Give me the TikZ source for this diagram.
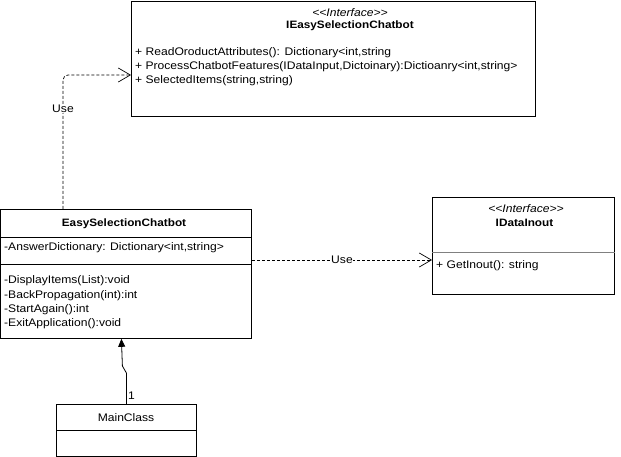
\documentclass[tikz,border=0pt]{standalone}
\usepackage{fontspec}
\setmainfont[FakeStretch=1.1]{Liberation Sans}
\usetikzlibrary{arrows.meta}
\begin{document}
\begin{tikzpicture}[x=1pt,y=-1pt,
  box/.style={draw=black,line width=0.8pt,fill=white,inner sep=0pt,anchor=north west},
  txt/.style={inner sep=0pt,font=\fontsize{11}{12}\selectfont},
  btxt/.style={inner sep=0pt,font=\fontsize{10.7}{12}\selectfont\bfseries},
  itxt/.style={inner sep=0pt,font=\fontsize{11}{12}\selectfont\itshape},
  ltxt/.style={txt,anchor=west},
  sep/.style={line width=0.8pt},
  dep/.style={line width=0.7pt,dash pattern=on 3pt off 2pt,-{Straight Barb[length=12pt,width=14pt,line width=0.7pt]}},
  lbl/.style={txt,fill=white,inner sep=0.5pt}]
\useasboundingbox[fill=white] (0,0) rectangle (621,457);
% top interface
\node[box,minimum width=404pt,minimum height=115pt] (ie) at (131,1) {};
\node[itxt] (ies) at (350,13) {{<}{<}Interface{>}{>}};
\node[btxt] (ien) at (350,26) {IEasySelectionChatbot};
\node[ltxt] (iem1) at (135,53) {+ ReadOroductAttributes(): Dictionary{<}int,string};
\node[ltxt] (iem2) at (135,67) {+ ProcessChatbotFeatures(IDataInput,Dictoinary):Dictioanry{<}int,string{>}};
\node[ltxt] (iem3) at (135,81) {+ SelectedItems(string,string)};
% EasySelectionChatbot
\node[box,minimum width=251pt,minimum height=129pt] (esc) at (0,209) {};
\node[btxt] (escn) at (124,224) {EasySelectionChatbot};
\draw[sep] ([yshift=-28pt]esc.north west) -- ([yshift=-28pt]esc.north east);
\node[ltxt] (esca) at (4,248) {-AnswerDictionary: Dictionary{<}int,string{>}};
\draw[sep] ([yshift=-55pt]esc.north west) -- ([yshift=-55pt]esc.north east);
\node[ltxt] (escm1) at (4,281) {-DisplayItems(List):void};
\node[ltxt] (escm2) at (4,295.5) {-BackPropagation(int):int};
\node[ltxt] (escm3) at (4,309.5) {-StartAgain():int};
\node[ltxt] (escm4) at (4,324) {-ExitApplication():void};
% IDataInout
\node[box,minimum width=182pt,minimum height=97pt] (idi) at (432,197) {};
\node[itxt] (idis) at (526,209) {{<}{<}Interface{>}{>}};
\node[btxt] (idin) at (524.5,223) {IDataInout};
\draw[sep,draw=gray] ([yshift=-55pt]idi.north west) -- ([yshift=-55pt]idi.north east);
\node[ltxt] (idim) at (436,266) {+ GetInout(): string};
% MainClass
\node[box,minimum width=140pt,minimum height=52pt] (mc) at (56,404) {};
\node[txt] (mcn) at (126,418) {MainClass};
\draw[sep] ([yshift=-26pt]mc.north west) -- ([yshift=-26pt]mc.north east);
% connectors
\draw[dep,rounded corners=5pt] ([xshift=63pt]esc.north west) |- ([yshift=-74pt]ie.north west);
\node[lbl] (use1) at (63,109) {Use};
\draw[dep] ([yshift=-51pt]esc.north east) -- ([yshift=-51pt]esc.north east -| idi.west);
\node[lbl] (use2) at (342,260) {Use};
\draw[line width=0.8pt,-{Triangle[length=8pt,width=7pt]}] (mc.north) -- ++(0,-31) -- ++(-4,-7) -- ([xshift=-4.5pt]esc.south);
\node[txt,anchor=west] (one) at (128,396) {1};
\end{tikzpicture}
\end{document}
